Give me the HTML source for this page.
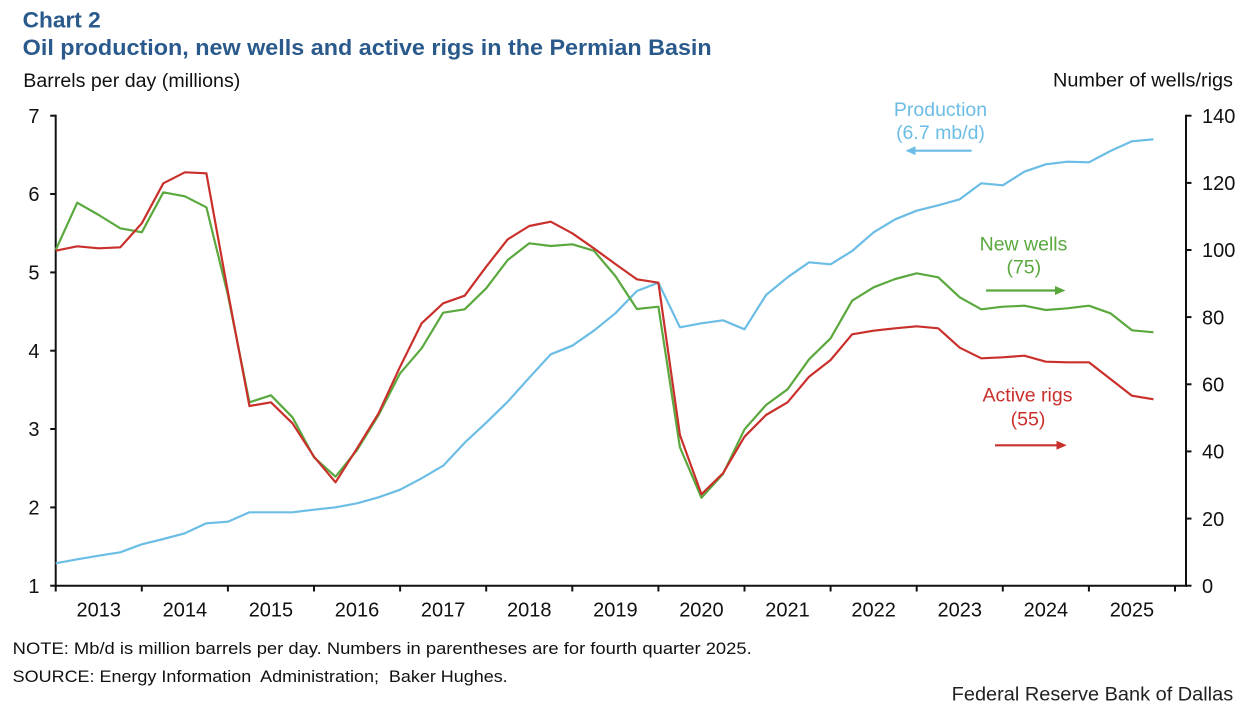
<!DOCTYPE html>
<html>
<head>
<meta charset="utf-8">
<style>
  html, body { margin: 0; padding: 0; background: #fff; }
  svg { display: block; }
  text { font-family: "Liberation Sans", Arial, sans-serif; }
</style>
</head>
<body>
<svg width="1246" height="706" viewBox="0 0 1246 706" xmlns="http://www.w3.org/2000/svg">
  <rect x="0" y="0" width="1246" height="706" fill="#ffffff"/>

  <!-- Titles -->
  <text x="22.7" y="27.3" font-size="22" font-weight="bold" fill="#2a5a8c" textLength="78" lengthAdjust="spacingAndGlyphs">Chart 2</text>
  <text x="22.7" y="55" font-size="22.5" font-weight="bold" fill="#2a5a8c" textLength="689" lengthAdjust="spacingAndGlyphs">Oil production, new wells and active rigs in the Permian Basin</text>

  <!-- Axis titles -->
  <text x="23.3" y="87" font-size="19" fill="#111" textLength="217" lengthAdjust="spacingAndGlyphs">Barrels per day (millions)</text>
  <text x="1053" y="86.7" font-size="19" fill="#111" textLength="180" lengthAdjust="spacingAndGlyphs">Number  of wells/rigs</text>

  <!-- Axes -->
  <g stroke="#111" stroke-width="2" fill="none">
    <line x1="55.7" y1="114.7" x2="55.7" y2="586.7"/>
    <line x1="1186" y1="114.7" x2="1186" y2="586.7"/>
    <line x1="54.7" y1="585.7" x2="1187" y2="585.7"/>
    <!-- left ticks -->
    <line x1="50.2" y1="115.7" x2="55.7" y2="115.7"/>
    <line x1="50.2" y1="194.0" x2="55.7" y2="194.0"/>
    <line x1="50.2" y1="272.4" x2="55.7" y2="272.4"/>
    <line x1="50.2" y1="350.7" x2="55.7" y2="350.7"/>
    <line x1="50.2" y1="429.0" x2="55.7" y2="429.0"/>
    <line x1="50.2" y1="507.4" x2="55.7" y2="507.4"/>
    <line x1="50.2" y1="585.7" x2="55.7" y2="585.7"/>
    <!-- right ticks -->
    <line x1="1186" y1="115.7" x2="1191.5" y2="115.7"/>
    <line x1="1186" y1="182.9" x2="1191.5" y2="182.9"/>
    <line x1="1186" y1="250.0" x2="1191.5" y2="250.0"/>
    <line x1="1186" y1="317.1" x2="1191.5" y2="317.1"/>
    <line x1="1186" y1="384.3" x2="1191.5" y2="384.3"/>
    <line x1="1186" y1="451.4" x2="1191.5" y2="451.4"/>
    <line x1="1186" y1="518.6" x2="1191.5" y2="518.6"/>
    <line x1="1186" y1="585.7" x2="1191.5" y2="585.7"/>
    <!-- bottom ticks -->
    <line x1="55.7" y1="585.7" x2="55.7" y2="591.5"/>
    <line x1="141.8" y1="585.7" x2="141.8" y2="591.5"/>
    <line x1="227.9" y1="585.7" x2="227.9" y2="591.5"/>
    <line x1="314.0" y1="585.7" x2="314.0" y2="591.5"/>
    <line x1="400.1" y1="585.7" x2="400.1" y2="591.5"/>
    <line x1="486.2" y1="585.7" x2="486.2" y2="591.5"/>
    <line x1="572.3" y1="585.7" x2="572.3" y2="591.5"/>
    <line x1="658.4" y1="585.7" x2="658.4" y2="591.5"/>
    <line x1="744.5" y1="585.7" x2="744.5" y2="591.5"/>
    <line x1="830.6" y1="585.7" x2="830.6" y2="591.5"/>
    <line x1="916.7" y1="585.7" x2="916.7" y2="591.5"/>
    <line x1="1002.8" y1="585.7" x2="1002.8" y2="591.5"/>
    <line x1="1088.9" y1="585.7" x2="1088.9" y2="591.5"/>
    <line x1="1175.0" y1="585.7" x2="1175.0" y2="591.5"/>
  </g>

  <!-- Left tick labels -->
  <g font-size="20" fill="#111" text-anchor="end">
    <text x="39.5" y="122.9">7</text>
    <text x="39.5" y="201.2">6</text>
    <text x="39.5" y="279.6">5</text>
    <text x="39.5" y="357.9">4</text>
    <text x="39.5" y="436.2">3</text>
    <text x="39.5" y="514.6">2</text>
    <text x="39.5" y="592.9">1</text>
  </g>

  <!-- Right tick labels -->
  <g font-size="20" fill="#111" text-anchor="start">
    <text x="1202" y="122.9">140</text>
    <text x="1202" y="190.1">120</text>
    <text x="1202" y="257.2">100</text>
    <text x="1202" y="324.3">80</text>
    <text x="1202" y="391.5">60</text>
    <text x="1202" y="458.6">40</text>
    <text x="1202" y="525.8">20</text>
    <text x="1202" y="592.9">0</text>
  </g>

  <!-- Year labels -->
  <g font-size="20" fill="#111" text-anchor="middle">
    <text x="98.75" y="616.5">2013</text>
    <text x="184.85" y="616.5">2014</text>
    <text x="270.95" y="616.5">2015</text>
    <text x="357.05" y="616.5">2016</text>
    <text x="443.15" y="616.5">2017</text>
    <text x="529.25" y="616.5">2018</text>
    <text x="615.35" y="616.5">2019</text>
    <text x="701.45" y="616.5">2020</text>
    <text x="787.55" y="616.5">2021</text>
    <text x="873.65" y="616.5">2022</text>
    <text x="959.75" y="616.5">2023</text>
    <text x="1045.85" y="616.5">2024</text>
    <text x="1131.95" y="616.5">2025</text>
  </g>

  <!-- Production (blue) -->
  <polyline fill="none" stroke="#6cbde5" stroke-width="2.2" stroke-linejoin="round" points="
55.70,563.3 77.23,559.3 98.75,555.7 120.28,552.3 141.80,544.3 163.33,539 184.85,533.3 206.38,523.3
227.90,521.7 249.43,512.3 270.95,512.3 292.48,512.3 314.00,509.7 335.53,507.3 357.05,503.3 378.58,497.3
400.10,489.7 421.63,478.3 443.15,465.7 464.68,442.7 486.20,422.7 507.73,401.7 529.25,377.7 550.78,354.3
572.30,345.7 593.83,330.7 615.35,313.3 636.88,291 658.40,282.7 679.93,327.3 701.45,323.3 722.98,320.3
744.50,329.3 766.03,295 787.55,277.3 809.08,262.3 830.60,264.3 852.13,251 873.65,232.3 895.18,219.3
916.70,210.7 938.23,205.3 959.75,199.3 981.28,183.3 1002.80,185.3 1024.33,171.7 1045.85,164.3 1067.38,161.7
1088.90,162.3 1110.43,151 1131.95,141.3 1153.48,139.3"/>

  <!-- New wells (green) -->
  <polyline fill="none" stroke="#5aa83e" stroke-width="2.2" stroke-linejoin="round" points="
55.70,250 77.23,202.7 98.75,215 120.28,228.3 141.80,232.3 163.33,192.3 184.85,196.3 206.38,207.3
227.90,295 249.43,402.3 270.95,395.3 292.48,417.3 314.00,457.3 335.53,476.7 357.05,450 378.58,415
400.10,373.3 421.63,348.3 443.15,312.7 464.68,309.3 486.20,288.3 507.73,260 529.25,243.3 550.78,246
572.30,244.3 593.83,250.7 615.35,276 636.88,309 658.40,306.7 679.93,447.3 701.45,497.7 722.98,474
744.50,429.3 766.03,405 787.55,389.3 809.08,359.3 830.60,338.3 852.13,300.7 873.65,287.3 895.18,279
916.70,273.3 938.23,277.3 959.75,297.3 981.28,309.3 1002.80,306.7 1024.33,305.7 1045.85,310 1067.38,308.3
1088.90,305.7 1110.43,313.3 1131.95,330.3 1153.48,332.3"/>

  <!-- Active rigs (red) -->
  <polyline fill="none" stroke="#c9302c" stroke-width="2.2" stroke-linejoin="round" points="
55.70,250.7 77.23,246.3 98.75,248.3 120.28,247.3 141.80,223.3 163.33,183.3 184.85,172.3 206.38,173.3
227.90,292 249.43,406 270.95,402.3 292.48,423.3 314.00,456.7 335.53,482.3 357.05,448.3 378.58,413.3
400.10,366.7 421.63,323.3 443.15,303.3 464.68,295.7 486.20,266.7 507.73,239.3 529.25,226 550.78,221.7
572.30,233.3 593.83,248.3 615.35,264 636.88,279.3 658.40,282.7 679.93,435 701.45,494.3 722.98,473.3
744.50,436.7 766.03,415 787.55,402.3 809.08,376.7 830.60,360 852.13,334.3 873.65,330.7 895.18,328.3
916.70,326.3 938.23,328.3 959.75,347.7 981.28,358.3 1002.80,357.3 1024.33,355.7 1045.85,361.7 1067.38,362.3
1088.90,362.3 1110.43,379 1131.95,395.7 1153.48,399.3"/>

  <!-- Legend: Production -->
  <g fill="#6cbde5" font-size="19.5" text-anchor="middle">
    <text x="940.5" y="116">Production</text>
    <text x="940.5" y="139">(6.7 mb/d)</text>
  </g>
  <line x1="971.7" y1="150.7" x2="914" y2="150.7" stroke="#6cbde5" stroke-width="2.2"/>
  <polygon points="905.5,150.7 915.5,146.3 915.5,155.1" fill="#6cbde5"/>

  <!-- Legend: New wells -->
  <g fill="#5aa83e" font-size="19.5" text-anchor="middle">
    <text x="1023.5" y="250.7">New wells</text>
    <text x="1023.8" y="273.5">(75)</text>
  </g>
  <line x1="986" y1="290.5" x2="1056" y2="290.5" stroke="#5aa83e" stroke-width="2.2"/>
  <polygon points="1065.5,290.5 1055,286 1055,295" fill="#5aa83e"/>

  <!-- Legend: Active rigs -->
  <g fill="#c9302c" font-size="19.5" text-anchor="middle">
    <text x="1027.5" y="401.7">Active rigs</text>
    <text x="1028" y="425.5">(55)</text>
  </g>
  <line x1="995" y1="445.3" x2="1057" y2="445.3" stroke="#c9302c" stroke-width="2.2"/>
  <polygon points="1066.7,445.3 1056.5,440.8 1056.5,449.8" fill="#c9302c"/>

  <!-- Footer -->
  <text x="12.7" y="654" font-size="17" fill="#111" textLength="739" lengthAdjust="spacingAndGlyphs">NOTE: Mb/d is million barrels per day. Numbers in parentheses are for fourth quarter 2025.</text>
  <text x="12.7" y="682" font-size="17" fill="#111" textLength="495" lengthAdjust="spacingAndGlyphs" xml:space="preserve">SOURCE: Energy Information  Administration;  Baker Hughes.</text>
  <text x="951.7" y="700.7" font-size="19" fill="#222" textLength="281.5" lengthAdjust="spacingAndGlyphs">Federal Reserve Bank of Dallas</text>
</svg>
</body>
</html>
